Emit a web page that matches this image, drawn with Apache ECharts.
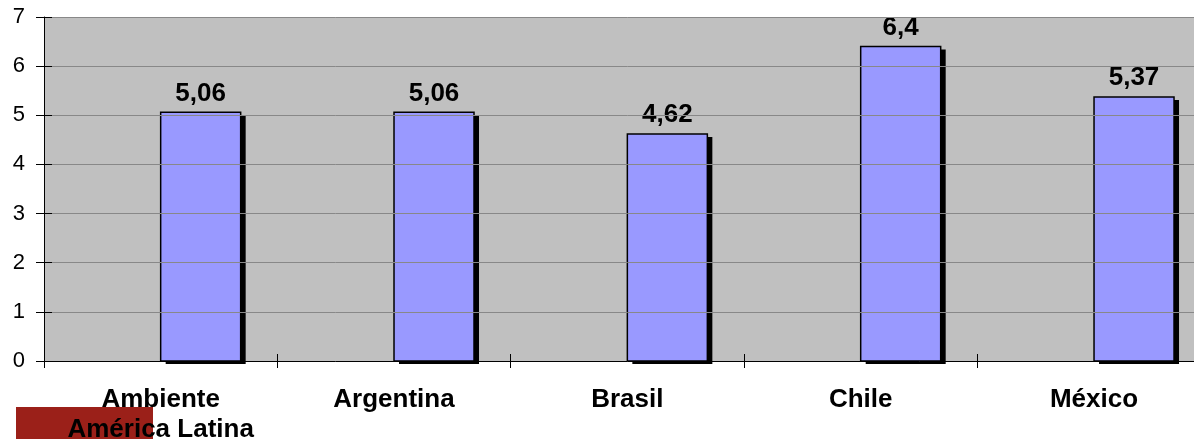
<!DOCTYPE html>
<html>
<head>
<meta charset="utf-8">
<script src="https://cdn.jsdelivr.net/npm/echarts@6/dist/echarts.min.js"></script>
<style>html,body{margin:0;padding:0;background:#fff;overflow:hidden;width:1194px;height:439px;}#c{width:1230px;height:439px;}</style>
</head>
<body>
<div id="c"></div>
<script>
var categories = ['Ambiente\nAmérica Latina', 'Argentina', 'Brasil', 'Chile', 'México'];
var values = [5.06, 5.06, 4.62, 6.4, 5.37];
var yTicks = [0, 1, 2, 3, 4, 5, 6, 7];

var FONT = "'Liberation Sans', Arial, sans-serif";
var chart = echarts.init(document.getElementById('c'), null, {renderer: 'canvas'});

function renderBar(params, api) {
  var idx = api.value(0);
  var top = api.coord([idx, api.value(1)]);
  var base = api.coord([idx, 0]);
  var w = 80;
  var x = top[0];
  var y = top[1];
  var h = base[1] - top[1];
  return {
    type: 'group',
    children: [
      {type: 'rect', shape: {x: x + 5, y: y + 3, width: w, height: h}, style: {fill: '#000'}},
      {type: 'rect', shape: {x: x, y: y, width: w, height: h}, style: {fill: '#9999ff', stroke: '#000', lineWidth: 1.5}},
      {type: 'text', x: x + w / 2, y: y - 6,
       style: {text: String(api.value(1)).replace('.', ','), fill: '#000', font: 'bold 26px ' + FONT, align: 'center', verticalAlign: 'bottom'}}
    ]
  };
}

chart.setOption({
  animation: false,
  backgroundColor: '#ffffff',
  grid: {left: 44, top: 17, right: 19.3, bottom: 78, outerBoundsMode: 'none', show: true, backgroundColor: '#c0c0c0', borderWidth: 0, containLabel: false},
  graphic: [
    {type: 'rect', left: 16, top: 407, z: -10, shape: {width: 137, height: 32}, style: {fill: '#9b2019'}}
  ],
  xAxis: [
    {type: 'category', data: categories, position: 'bottom', z: 5,
     axisLine: {show: true, lineStyle: {color: '#000', width: 1}},
     axisTick: {show: true, length: 7, lineStyle: {color: '#000'}},
     axisLabel: {color: '#000', fontFamily: FONT, fontWeight: 'bold', fontSize: 26, lineHeight: 30, margin: 24, interval: 0},
     splitLine: {show: false}},
    {type: 'category', data: categories, position: 'bottom', z: 5,
     axisLine: {show: false},
     axisTick: {show: true, inside: true, length: 7, lineStyle: {color: '#000'}},
     axisLabel: {show: false}, splitLine: {show: false}}
  ],
  yAxis: [
    {type: 'value', min: yTicks[0], max: yTicks[yTicks.length - 1], interval: 1, position: 'left', z: 5,
     axisLine: {show: true, lineStyle: {color: '#000'}},
     axisTick: {show: true, length: 8, lineStyle: {color: '#000'}},
     axisLabel: {color: '#000', fontFamily: FONT, fontSize: 22, margin: 19, padding: [3, 0, 0, 0]},
     splitLine: {show: true, lineStyle: {color: '#888888', width: 1}}},
    {type: 'value', min: yTicks[0], max: yTicks[yTicks.length - 1], interval: 1, position: 'left', offset: 0, z: 5,
     axisLine: {show: false},
     axisTick: {show: true, inside: true, length: 8, lineStyle: {color: '#000'}},
     axisLabel: {show: false}, splitLine: {show: false}}
  ],
  series: [
    {type: 'custom', name: 'valor', renderItem: renderBar, z: 3, clip: false,
     encode: {x: 0, y: 1},
     data: values.map(function(v, i){ return [i, v]; })}
  ]
});
</script>
</body>
</html>
